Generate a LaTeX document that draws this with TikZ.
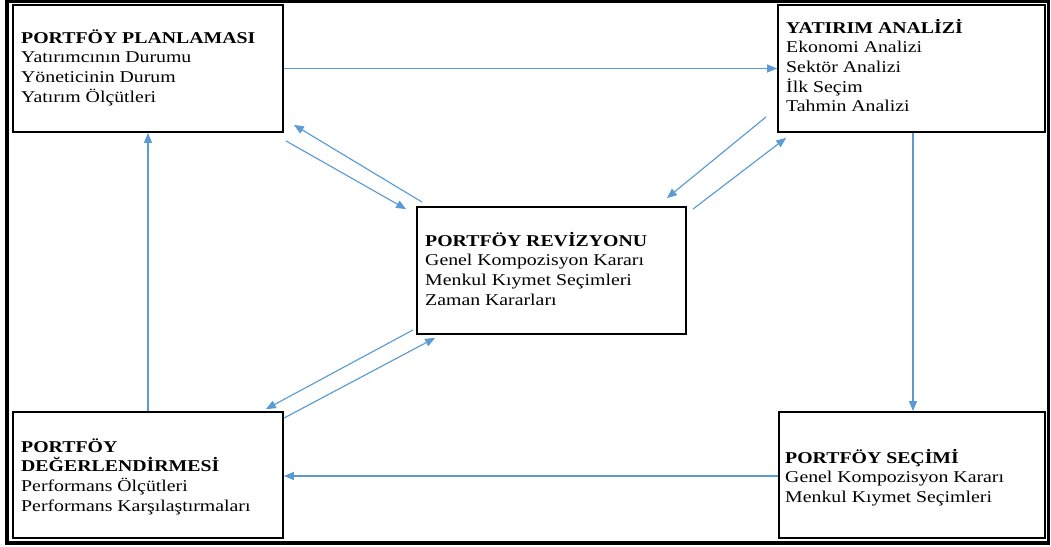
\documentclass[tikz,border=0pt]{standalone}
\usepackage{fontspec}
\setmainfont{Liberation Serif}[FakeStretch=1.2]
\usetikzlibrary{arrows.meta}
\definecolor{arr}{RGB}{91,155,213}
\begin{document}
\begin{tikzpicture}[x=1pt,y=-1pt,
  box/.style={draw=black,line width=1.7pt,inner sep=0pt},
  txt/.style={anchor=base west,inner sep=0pt,font=\fontsize{16.5}{19.7}\selectfont},
  con/.style={draw=arr,line width=1.15pt,-{Triangle[length=10pt,width=8pt]}}]
\useasboundingbox (0,0) rectangle (1051,546);
\draw[line width=3.5pt] (7,1.5) rectangle (1048.5,543);
% boxes
\node[box,minimum width=270pt,minimum height=127pt] (pp) at (148,68.5) {};
\node[box,minimum width=267pt,minimum height=127pt] (ya) at (911.5,68.5) {};
\node[box,minimum width=269pt,minimum height=127pt] (pr) at (551.5,270.5) {};
\node[box,minimum width=270pt,minimum height=126pt] (pd) at (148,475) {};
\node[box,minimum width=266pt,minimum height=126pt] (ps) at (912,475) {};
% texts
\node[txt] (ppt) at (21,43) {\parbox[t]{255pt}{\textbf{PORTFÖY PLANLAMASI}\\Yatırımcının Durumu\\Yöneticinin Durum\\Yatırım Ölçütleri}};
\node[txt] (yat) at (786,33) {\parbox[t]{255pt}{\textbf{YATIRIM ANALİZİ}\\Ekonomi Analizi\\Sektör Analizi\\İlk Seçim\\Tahmin Analizi}};
\node[txt] (prt) at (425,246) {\parbox[t]{255pt}{\textbf{PORTFÖY REVİZYONU}\\Genel Kompozisyon Kararı\\Menkul Kıymet Seçimleri\\Zaman Kararları}};
\node[txt] (pdt) at (21,452) {\parbox[t]{255pt}{\textbf{PORTFÖY}\\\textbf{DEĞERLENDİRMESİ}\\Performans Ölçütleri\\Performans Karşılaştırmaları}};
\node[txt] (pst) at (785,463) {\parbox[t]{255pt}{\textbf{PORTFÖY SEÇİMİ}\\Genel Kompozisyon Kararı\\Menkul Kıymet Seçimleri}};
% connectors
\draw[con] (pp.east) -- (ya.west);
\draw[con] ([xshift=1.5pt]ya.south) -- ([xshift=1.5pt]ya.south |- ps.north);
\draw[con] ([yshift=-1pt]ps.west) -- ([yshift=-1pt]ps.west -| pd.east);
\draw[con] (pd.north) -- (pp.south);
\draw[con] ([shift={(6,-4)}]pr.north west) -- ([shift={(10,-8)}]pp.south east);
\draw[con] ([shift={(2,8)}]pp.south east) -- ([shift={(-10,3)}]pr.north west);
\draw[con] ([shift={(-11,-16)}]ya.south west) -- ([shift={(-20,-8)}]pr.north east);
\draw[con] ([shift={(6,3)}]pr.north east) -- ([shift={(9,5)}]ya.south west);
\draw[con] ([shift={(-3,-5)}]pr.south west) -- ([shift={(-18,-2)}]pd.north east);
\draw[con] ([shift={(0,7)}]pd.north east) -- ([shift={(19,3)}]pr.south west);
\end{tikzpicture}
\end{document}
